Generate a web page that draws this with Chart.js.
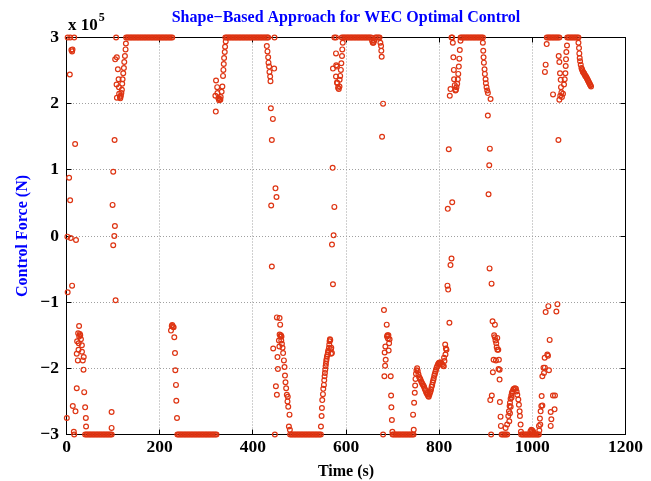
<!DOCTYPE html>
<html>
<head>
<meta charset="utf-8">
<title>Shape-Based Approach for WEC Optimal Control</title>
<script src="https://cdn.jsdelivr.net/npm/chart.js@4.4.1/dist/chart.umd.min.js"></script>
<style>
  body { margin: 0; background: #fff; }
  #wrap { width: 651px; height: 481px; }
</style>
</head>
<body>
<div id="wrap"><canvas id="forceChart" width="651" height="481"></canvas></div>
<script>
// force values are in units of 1e5 N (the axis reads "x 10^5")
const forceLimit = 3;
const xTicks = [0, 200, 400, 600, 800, 1000, 1200];
const yTicks = [-3, -2, -1, 0, 1, 2, 3];

// times (s) where the force sits on the +limit
const upperSatTimes = [
  128, 131, 134, 137, 140, 143, 146, 149, 152, 155, 158, 161, 164, 167, 170, 173, 176,
  179, 182, 185, 188, 191, 194, 197, 200, 203, 206, 209, 212, 215, 218, 221, 224, 227,
  341, 344, 347, 350, 353, 356, 359, 362, 365, 368, 371, 374, 377, 380, 383, 386, 389,
  392, 395, 398, 401, 404, 407, 410, 413, 416, 419, 422, 425, 428, 431, 433,
  591, 594, 597, 600, 603, 606, 609, 612, 615, 618, 621, 624, 627, 630, 633, 636, 639,
  642, 645, 648, 651, 654, 663, 666, 669, 672,
  846, 849, 852, 855, 858, 861, 864, 867, 870, 873, 876, 879, 882, 885, 888, 891, 894,
  1031, 1034, 1037, 1040, 1043, 1046, 1049, 1052, 1055, 1058,
  1075, 1078, 1081, 1084, 1087, 1090, 1093, 1096, 1099
];

// times (s) where the force sits on the -limit
const lowerSatTimes = [
  40, 43, 46, 49, 52, 55, 58, 61, 64, 67, 70, 73, 76, 79, 82, 85, 88, 91, 94, 97,
  238, 241, 244, 247, 250, 253, 256, 259, 262, 265, 268, 271, 274, 277, 280, 283, 286,
  289, 292, 295, 298, 301, 304, 307, 310, 313, 316, 319, 322,
  480, 483, 486, 489, 492, 495, 498, 501, 504, 507, 510, 513, 516, 519, 522, 525, 528,
  531, 534, 537, 540, 543, 546,
  700, 703, 706, 709, 712, 715, 718, 721, 724, 727, 730, 733, 736, 739, 742, 745,
  934, 937, 940, 943, 946,
  976, 979, 982, 985, 988, 991, 994, 997, 1000, 1003, 1006, 1009, 1012, 1014
];

// [time (s), force] for the samples between the limits
const freeSamples = [
  // 0 - 45 s
  [0.7, -2.75], [1.9, -0.01], [2.5, -0.85], [2.5, 3.0], [5.6, 0.88], [7.1, 2.44], [7.8, 0.54],
  [8.0, 3.0], [9.0, -0.03], [10.5, 2.81], [12.0, -0.75], [12.0, 2.79], [12.9, 2.82],
  [13.5, -2.57], [15.7, -2.96], [16.5, -3.0], [16.5, 3.0], [18.5, 1.39], [19.3, -2.65],
  [20.4, -0.06], [22.0, -2.30], [22.0, -1.78], [22.8, -1.59], [24.3, -1.88], [25.0, -1.47],
  [25.8, -1.72], [26.2, -1.62], [27.0, -1.36], [27.3, -1.52], [28.6, -1.48], [29.5, -1.50],
  [31.0, -1.56], [33.0, -1.65], [33.2, -1.75], [35.0, -1.88], [36.5, -2.02], [37.0, -1.83],
  [38.0, -2.36], [40.0, -2.59], [41.5, -2.75], [42.0, -2.88],
  // 96 - 128 s
  [96.8, -2.66], [96.8, -2.90], [98.9, 0.47], [100.3, 0.97], [100.3, -0.14], [102.6, 0.0],
  [103.2, 1.45], [103.9, 0.15], [105.4, -0.97], [104.5, 2.67], [106.5, 3.0], [108.0, 2.70],
  [107.5, 2.29], [108.2, 2.09], [110.3, 2.52], [111.8, 2.37], [112.5, 2.25], [113.0, 2.15],
  [114.6, 2.10], [115.5, 2.08], [116.8, 2.12], [117.8, 2.16], [118.9, 2.21], [119.6, 2.30],
  [120.4, 2.37], [121.8, 2.46], [123.2, 2.54], [124.0, 2.63], [125.4, 2.72], [126.8, 2.82],
  [127.5, 2.91],
  // 224 - 238 s
  [224.3, -1.43], [226.0, -1.36], [227.0, -1.345], [228.5, -1.37], [230.0, -1.38],
  [231.4, -1.53], [232.9, -1.77], [233.6, -2.03], [235.0, -2.25], [235.7, -2.49], [237.2, -2.75],
  // 319 - 342 s
  [319.6, 2.12], [320.5, 1.88], [321.0, 2.35], [323.5, 2.25], [324.0, 2.16], [326.0, 2.08],
  [327.5, 2.05], [329.0, 2.07], [330.3, 2.06], [331.0, 2.10], [333.0, 2.18], [334.6, 2.26],
  [336.0, 2.42], [336.8, 2.51], [337.6, 2.60], [338.3, 2.69], [339.7, 2.78], [340.4, 2.86],
  [341.8, 2.94],
  // 430 - 480 s
  [430.0, 2.87], [431.4, 2.79], [432.9, 2.70], [433.6, 2.62], [435.0, 2.56], [435.7, 2.48],
  [437.2, 2.41], [437.9, 2.34], [438.7, 1.93], [439.4, 0.46], [440.8, 1.45], [440.8, -0.46],
  [443.0, 1.77], [443.7, -1.70], [445.8, 2.53], [446.5, 3.0], [447.3, -3.0], [448.6, 0.72],
  [449.5, -2.27], [450.8, 0.59], [451.6, -2.40], [451.6, -1.23], [452.9, -1.83], [453.8, -2.01],
  [456.0, -1.58], [457.0, -1.67], [457.4, -1.24], [457.5, -1.49], [458.7, -1.34], [459.5, -1.52],
  [460.2, -1.50], [461.0, -1.58], [461.5, -1.52], [462.4, -1.63], [463.8, -1.69], [465.0, -1.77],
  [466.7, -1.88], [468.0, -1.98], [469.0, -2.11], [470.1, -2.21], [471.5, -2.30], [473.0, -2.40],
  [474.4, -2.50], [475.0, -2.43], [476.0, -2.58], [477.4, -2.88], [478.7, -2.70], [479.5, -2.93],
  // 546 - 594 s
  [546.2, -2.88], [547.6, -2.72], [548.3, -2.60], [549.0, -2.48], [550.5, -2.39], [551.2, -2.31],
  [552.6, -2.25], [553.3, -2.18], [554.0, -2.12], [554.8, -2.07], [555.5, -2.02], [556.2, -1.97],
  [556.9, -1.93], [557.6, -1.89], [558.3, -1.86], [559.1, -1.82], [560.5, -1.79], [561.2, -1.76],
  [561.9, -1.73], [563.4, -1.69], [564.1, -1.64], [564.8, -1.59], [565.5, -1.56], [566.2, -1.57],
  [567.7, -1.71], [567.9, -1.78], [568.4, -1.69], [569.8, -1.77], [569.9, -0.13], [571.3, 1.03],
  [572.0, -0.73], [572.0, 2.53], [573.4, 0.01], [575.0, 0.44], [575.0, 3.0], [578.5, 3.0],
  [578.5, 2.76], [578.5, 2.41], [579.0, 2.58], [580.6, 2.56], [580.6, 2.32], [581.5, 2.31],
  [583.0, 2.24], [584.5, 2.22], [586.0, 2.26], [586.3, 2.36], [587.5, 2.42], [589.0, 2.51],
  [590.0, 2.61], [591.4, 2.72], [592.0, 2.82], [593.0, 2.92],
  // small dip on the 600 s plateau
  [656.0, 2.95], [657.5, 2.92], [659.0, 2.92], [660.5, 2.95],
  // 673 - 700 s
  [673.8, 2.92], [675.3, 2.87], [675.8, 2.80], [676.6, 2.71], [677.4, 1.50], [679.6, 2.0],
  [679.6, -3.0], [681.5, -1.12], [682.4, -2.12], [683.0, -1.76], [683.9, -1.96], [684.5, -1.67],
  [685.2, -1.87], [687.4, -1.34], [688.0, -1.52], [689.0, -1.50], [690.0, -1.55], [691.0, -1.50],
  [691.6, -1.73], [692.5, -1.62], [693.5, -1.56], [696.0, -2.12], [696.8, -2.41], [697.4, -2.59],
  [698.5, -2.78], [699.6, -2.96],
  // 744 - 846 s
  [744.0, -2.70], [745.4, -2.93], [746.2, -2.52], [747.6, -2.37], [748.4, -2.26], [749.2, -2.16],
  [750.2, -2.08], [751.3, -2.03], [752.7, -2.00], [754.0, -2.04], [755.5, -2.09], [757.0, -2.13],
  [758.5, -2.15], [759.8, -2.17], [761.5, -2.20], [763.0, -2.22], [764.5, -2.24], [766.0, -2.26],
  [767.5, -2.28], [769.0, -2.31], [770.5, -2.33], [772.0, -2.36], [773.5, -2.38], [775.0, -2.40],
  [776.5, -2.42], [777.6, -2.43], [779.0, -2.40], [780.2, -2.37], [781.3, -2.35], [782.5, -2.32],
  [783.8, -2.28], [785.0, -2.25], [786.2, -2.21], [787.3, -2.18], [788.4, -2.15], [789.6, -2.11],
  [790.8, -2.08], [792.0, -2.05], [793.2, -2.02], [794.5, -1.99], [795.7, -1.97], [797.5, -1.94],
  [799.2, -1.92], [801.0, -1.91], [802.8, -1.91], [804.6, -1.92], [806.5, -1.94], [808.2, -1.96],
  [810.0, -1.97], [810.5, -1.84], [811.4, -1.89], [812.9, -1.64], [813.5, -1.79], [814.5, -1.70],
  [815.7, -1.72], [817.8, -0.75], [818.5, 0.41], [819.3, -0.81], [820.6, 1.31], [822.0, -1.31],
  [822.8, 2.12], [824.3, -0.44], [824.3, 2.22], [826.5, -0.34], [826.5, 3.0], [828.0, 0.51],
  [828.0, 3.0], [829.3, 2.92], [830.5, 2.70], [831.5, 2.51], [832.0, 2.37], [833.5, 2.28],
  [835.0, 2.20], [836.0, 2.21], [837.2, 2.25], [838.7, 2.30], [840.0, 2.37], [841.0, 2.45],
  [842.2, 2.56], [843.3, 2.68], [844.3, 2.81], [845.8, 2.95],
  // 893 - 933 s
  [893.8, 2.92], [894.6, 2.80], [895.3, 2.70], [896.0, 2.62], [897.4, 2.52], [898.1, 2.45],
  [899.6, 2.37], [900.3, 2.31], [901.7, 2.25], [903.2, 2.20], [904.6, 2.16], [904.5, 1.82],
  [906.0, 0.63], [907.5, 1.07], [908.8, 1.32], [908.2, -0.49], [909.7, -2.48], [910.3, 2.07],
  [911.5, -3.0], [912.5, -0.72], [913.0, -2.41], [914.6, -1.29], [915.3, -2.06], [916.8, -1.87],
  [918.0, -1.50], [919.5, -1.53], [919.6, -1.34], [921.0, -1.58], [921.9, -1.88], [922.5, -1.62],
  [923.5, -1.68], [924.7, -1.54], [925.0, -1.72], [926.9, -1.72], [927.5, -2.01], [928.2, -1.87],
  [929.7, -2.02], [929.7, -2.17], [930.3, -2.51], [931.8, -2.73], [932.5, -2.87],
  // hump near 960 s
  [942.6, -2.90], [946.0, -2.85], [948.4, -2.72], [949.8, -2.65], [950.5, -2.80], [951.2, -2.57],
  [952.0, -2.52], [952.0, -2.68], [953.3, -2.46], [953.5, -2.58], [954.8, -2.41], [955.5, -2.44],
  [956.1, -2.37], [957.6, -2.35], [959.1, -2.32], [960.5, -2.31], [962.6, -2.30], [964.8, -2.31],
  [966.2, -2.35], [967.7, -2.40], [969.9, -2.47], [971.2, -2.55], [972.7, -2.65], [973.4, -2.72],
  [974.8, -2.85], [975.5, -2.96],
  [996.0, -2.95], [998.0, -2.93], [1000.0, -2.94], [1002.0, -2.96],
  // 1014 - 1075 s
  [1014.2, -2.87], [1015.0, -2.94], [1016.3, -2.76], [1017.0, -2.85], [1017.8, -2.65],
  [1019.3, -2.57], [1020.0, -2.42], [1021.5, -2.12], [1021.5, -2.56], [1024.0, -1.99],
  [1025.0, -2.07], [1026.5, -1.84], [1027.0, -1.99], [1027.0, 2.48], [1028.6, 2.59],
  [1028.6, -1.15], [1030.8, 2.90], [1032.2, -1.79], [1033.6, -1.81], [1034.4, -1.06],
  [1035.7, -2.03], [1037.2, -1.57], [1039.4, -2.87], [1039.4, -2.66], [1040.8, -2.77],
  [1044.3, -2.41], [1044.4, 2.14], [1047.7, -2.62], [1048.6, -2.41], [1051.6, -1.14],
  [1053.8, -1.03], [1056.0, 1.45], [1056.6, 2.72], [1058.0, 2.63], [1058.0, 2.06],
  [1059.4, 2.46], [1060.0, 2.12], [1060.9, 2.36], [1061.5, 2.25], [1062.4, 2.17], [1063.5, 2.10],
  [1065.8, 2.15], [1068.0, 2.29], [1069.5, 2.37], [1071.0, 2.46], [1071.6, 2.57], [1072.3, 2.67],
  [1073.0, 2.78], [1074.4, 2.88],
  // tail after 1099 s
  [1099.0, 2.92], [1100.2, 2.84], [1100.9, 2.76], [1101.7, 2.69], [1102.5, 2.64], [1103.9, 2.59],
  [1105.4, 2.54], [1106.5, 2.52], [1107.5, 2.50], [1108.6, 2.48], [1109.7, 2.47], [1110.8, 2.46],
  [1111.8, 2.45], [1113.0, 2.43], [1114.0, 2.42], [1115.0, 2.41], [1116.1, 2.40], [1117.2, 2.38],
  [1118.3, 2.37], [1119.4, 2.35], [1120.4, 2.34], [1121.5, 2.32], [1122.6, 2.31], [1123.7, 2.29],
  [1124.7, 2.28], [1126.0, 2.26]
];

const points = [];
upperSatTimes.forEach(t => points.push({x: t, y: forceLimit}));
lowerSatTimes.forEach(t => points.push({x: t, y: -forceLimit}));
freeSamples.forEach(p => points.push({x: p[0], y: p[1]}));

const serif = '"Liberation Serif", "Times New Roman", serif';

// box, inward ticks and the "x 10^5" exponent, matlab style
const matlabFrame = {
  id: 'matlabFrame',
  beforeDatasetsDraw(chart) {
    const {ctx, chartArea: a, scales} = chart;
    const len = 5;
    ctx.save();
    ctx.strokeStyle = '#000';
    ctx.lineWidth = 1;
    ctx.strokeRect(a.left, a.top, a.right - a.left, a.bottom - a.top);
    ctx.beginPath();
    scales.x.ticks.forEach(t => {
      const px = Math.floor(scales.x.getPixelForValue(t.value)) + 0.5;
      ctx.moveTo(px, a.bottom); ctx.lineTo(px, a.bottom - len);
      ctx.moveTo(px, a.top); ctx.lineTo(px, a.top + len);
    });
    scales.y.ticks.forEach(t => {
      const py = Math.floor(scales.y.getPixelForValue(t.value)) + 0.5;
      ctx.moveTo(a.left, py); ctx.lineTo(a.left + len, py);
      ctx.moveTo(a.right, py); ctx.lineTo(a.right - len, py);
    });
    ctx.stroke();
    ctx.restore();
  },
  afterDraw(chart) {
    const ctx = chart.ctx;
    ctx.save();
    ctx.fillStyle = '#000';
    ctx.textBaseline = 'alphabetic';
    ctx.font = 'bold 17px ' + serif;
    ctx.fillText('x 10', 68, 30);
    const w = ctx.measureText('x 10').width;
    ctx.font = 'bold 12px ' + serif;
    ctx.fillText('5', 68 + w + 1, 20.5);
    ctx.restore();
  }
};

const minus = v => (v < 0 ? '\u2212' + Math.abs(v) : String(v));

const ctx = document.getElementById('forceChart').getContext('2d');
const forceChart = new Chart(ctx, {
  type: 'scatter',
  data: {
    datasets: [{
      label: 'Control force',
      data: points,
      showLine: false,
      pointStyle: 'circle',
      pointRadius: 2.4,
      pointBorderWidth: 1.2,
      borderColor: 'rgb(222,52,18)',
      backgroundColor: 'rgba(0,0,0,0)',
      clip: false
    }]
  },
  options: {
    responsive: false,
    animation: false,
    layout: { padding: { left: 0, right: 25.5, top: 0, bottom: 0 } },
    plugins: {
      legend: { display: false },
      tooltip: { enabled: false },
      title: {
        display: true,
        fullSize: false,
        text: 'Shape\u2212Based Approach for WEC Optimal Control',
        color: '#0000ff',
        font: { family: serif, size: 16, weight: 'bold' },
        padding: { top: 8.3, bottom: 10 }
      }
    },
    scales: {
      x: {
        type: 'linear',
        min: 0,
        max: 1200,
        afterBuildTicks: s => { s.ticks = xTicks.map(v => ({value: v})); },
        afterFit: s => { s.height = 46.5; },
        ticks: {
          autoSkip: false,
          maxRotation: 0,
          padding: 2,
          color: '#000',
          font: { family: serif, size: 17.5, weight: 'bold' },
          callback: minus
        },
        grid: { color: '#a0a0a0', lineWidth: 1, drawTicks: false },
        border: { display: false, dash: [1, 2] },
        title: {
          display: true,
          text: 'Time (s)',
          color: '#000',
          font: { family: serif, size: 16, weight: 'bold' },
          padding: { top: 0, bottom: 0 }
        }
      },
      y: {
        type: 'linear',
        min: -3,
        max: 3,
        afterBuildTicks: s => { s.ticks = yTicks.map(v => ({value: v})); },
        afterFit: s => { s.width = 66.5; },
        ticks: {
          padding: 7.5,
          color: '#000',
          font: { family: serif, size: 17.5, weight: 'bold' },
          callback: minus
        },
        grid: { color: '#a0a0a0', lineWidth: 1, drawTicks: false },
        border: { display: false, dash: [1, 2] },
        title: {
          display: true,
          text: 'Control Force (N)',
          color: '#0000ff',
          font: { family: serif, size: 16, weight: 'bold' },
          padding: { top: 13.4, bottom: 0 }
        }
      }
    }
  },
  plugins: [matlabFrame]
});
</script>
</body>
</html>
